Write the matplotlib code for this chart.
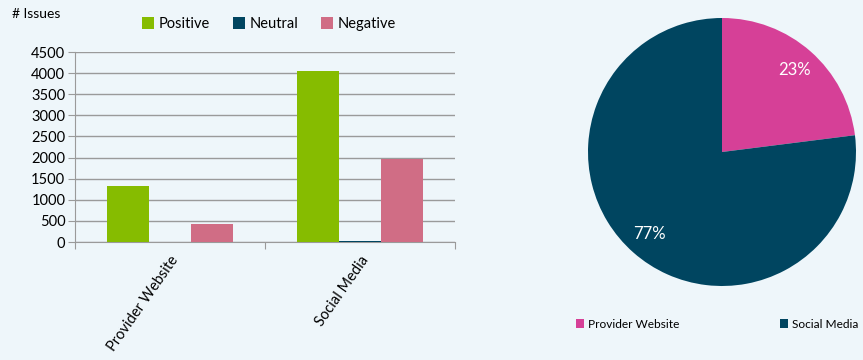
import matplotlib.pyplot as plt
import numpy as np

plt.rcParams['font.family'] = ['Lato', 'DejaVu Sans']

# data
channels = ["Provider Website", "Social Media"]
positive = [1330, 4050]
neutral = [0, 20]
negative = [430, 1960]
share_labels = ["Provider Website", "Social Media"]
share = [23, 77]

bg = '#EEF6FA'
green = '#86BC00'
navy = '#004560'
rose = '#D06D85'
magenta = '#D64097'

fig = plt.figure(figsize=(8.63, 3.6), dpi=100, facecolor=bg)

# bar chart
ax = fig.add_axes([75/863, 1-242/360, 380/863, 190/360])
ax.set_facecolor(bg)
x = np.arange(len(channels))
w = 0.221
ax.bar(x - w, positive, w, color=green, label='Positive', zorder=3)
ax.bar(x, neutral, w, color=navy, label='Neutral', zorder=3)
ax.bar(x + w, negative, w, color=rose, label='Negative', zorder=3)
ax.set_xlim(-0.5, len(channels) - 0.5)
ax.set_ylim(0, 4500)
ax.set_yticks(range(0, 4501, 500))
ax.yaxis.grid(True, color='#9a9a9a', linewidth=1, zorder=0)
ax.set_xticks(np.arange(-0.5, len(channels)), [''] * (len(channels) + 1))
ax.set_xticks(x, channels, minor=True, rotation=55, ha='right', va='top',
              rotation_mode='anchor', fontsize=10.5)
ax.tick_params(axis='x', which='minor', length=0, pad=8)
ax.tick_params(axis='x', which='major', length=5, color='#9a9a9a')
ax.tick_params(axis='y', length=5, color='#9a9a9a', labelsize=10.5, pad=2)
for s in ['top', 'right']:
    ax.spines[s].set_visible(False)
for s in ['left', 'bottom']:
    ax.spines[s].set_color('#9a9a9a')
ax.legend(loc='center', bbox_to_anchor=(194/380, (242-24)/190), ncol=3,
          frameon=False, fontsize=10.5, handlelength=0.8, handleheight=0.8,
          handletextpad=0.3, columnspacing=1.6, borderaxespad=0)
fig.text(12/863, 1-14/360, '# Issues', fontsize=10, va='center', ha='left')

# pie chart
axp = fig.add_axes([588/863, 1-286/360, 268/863, 268/360])
axp.set_facecolor(bg)
wedges, texts, autotexts = axp.pie(share, colors=[magenta, navy], startangle=90,
                                   counterclock=False, autopct='%d%%',
                                   pctdistance=0.82,
                                   textprops={'color': 'white', 'fontsize': 12})
axp.set_xlim(-1, 1)
axp.set_ylim(-1, 1)
axp.set_aspect('equal')
for t in texts:
    t.set_visible(False)
axp.legend(wedges, share_labels, loc='center left',
           bbox_to_anchor=((576-588)/268, (286-324)/268),
           ncol=2, frameon=False, fontsize=8.6, handlelength=0.7, handleheight=0.7,
           handletextpad=0.3, columnspacing=8.4, borderaxespad=0, borderpad=0)

fig.savefig('out.png', dpi=100, facecolor=bg)
